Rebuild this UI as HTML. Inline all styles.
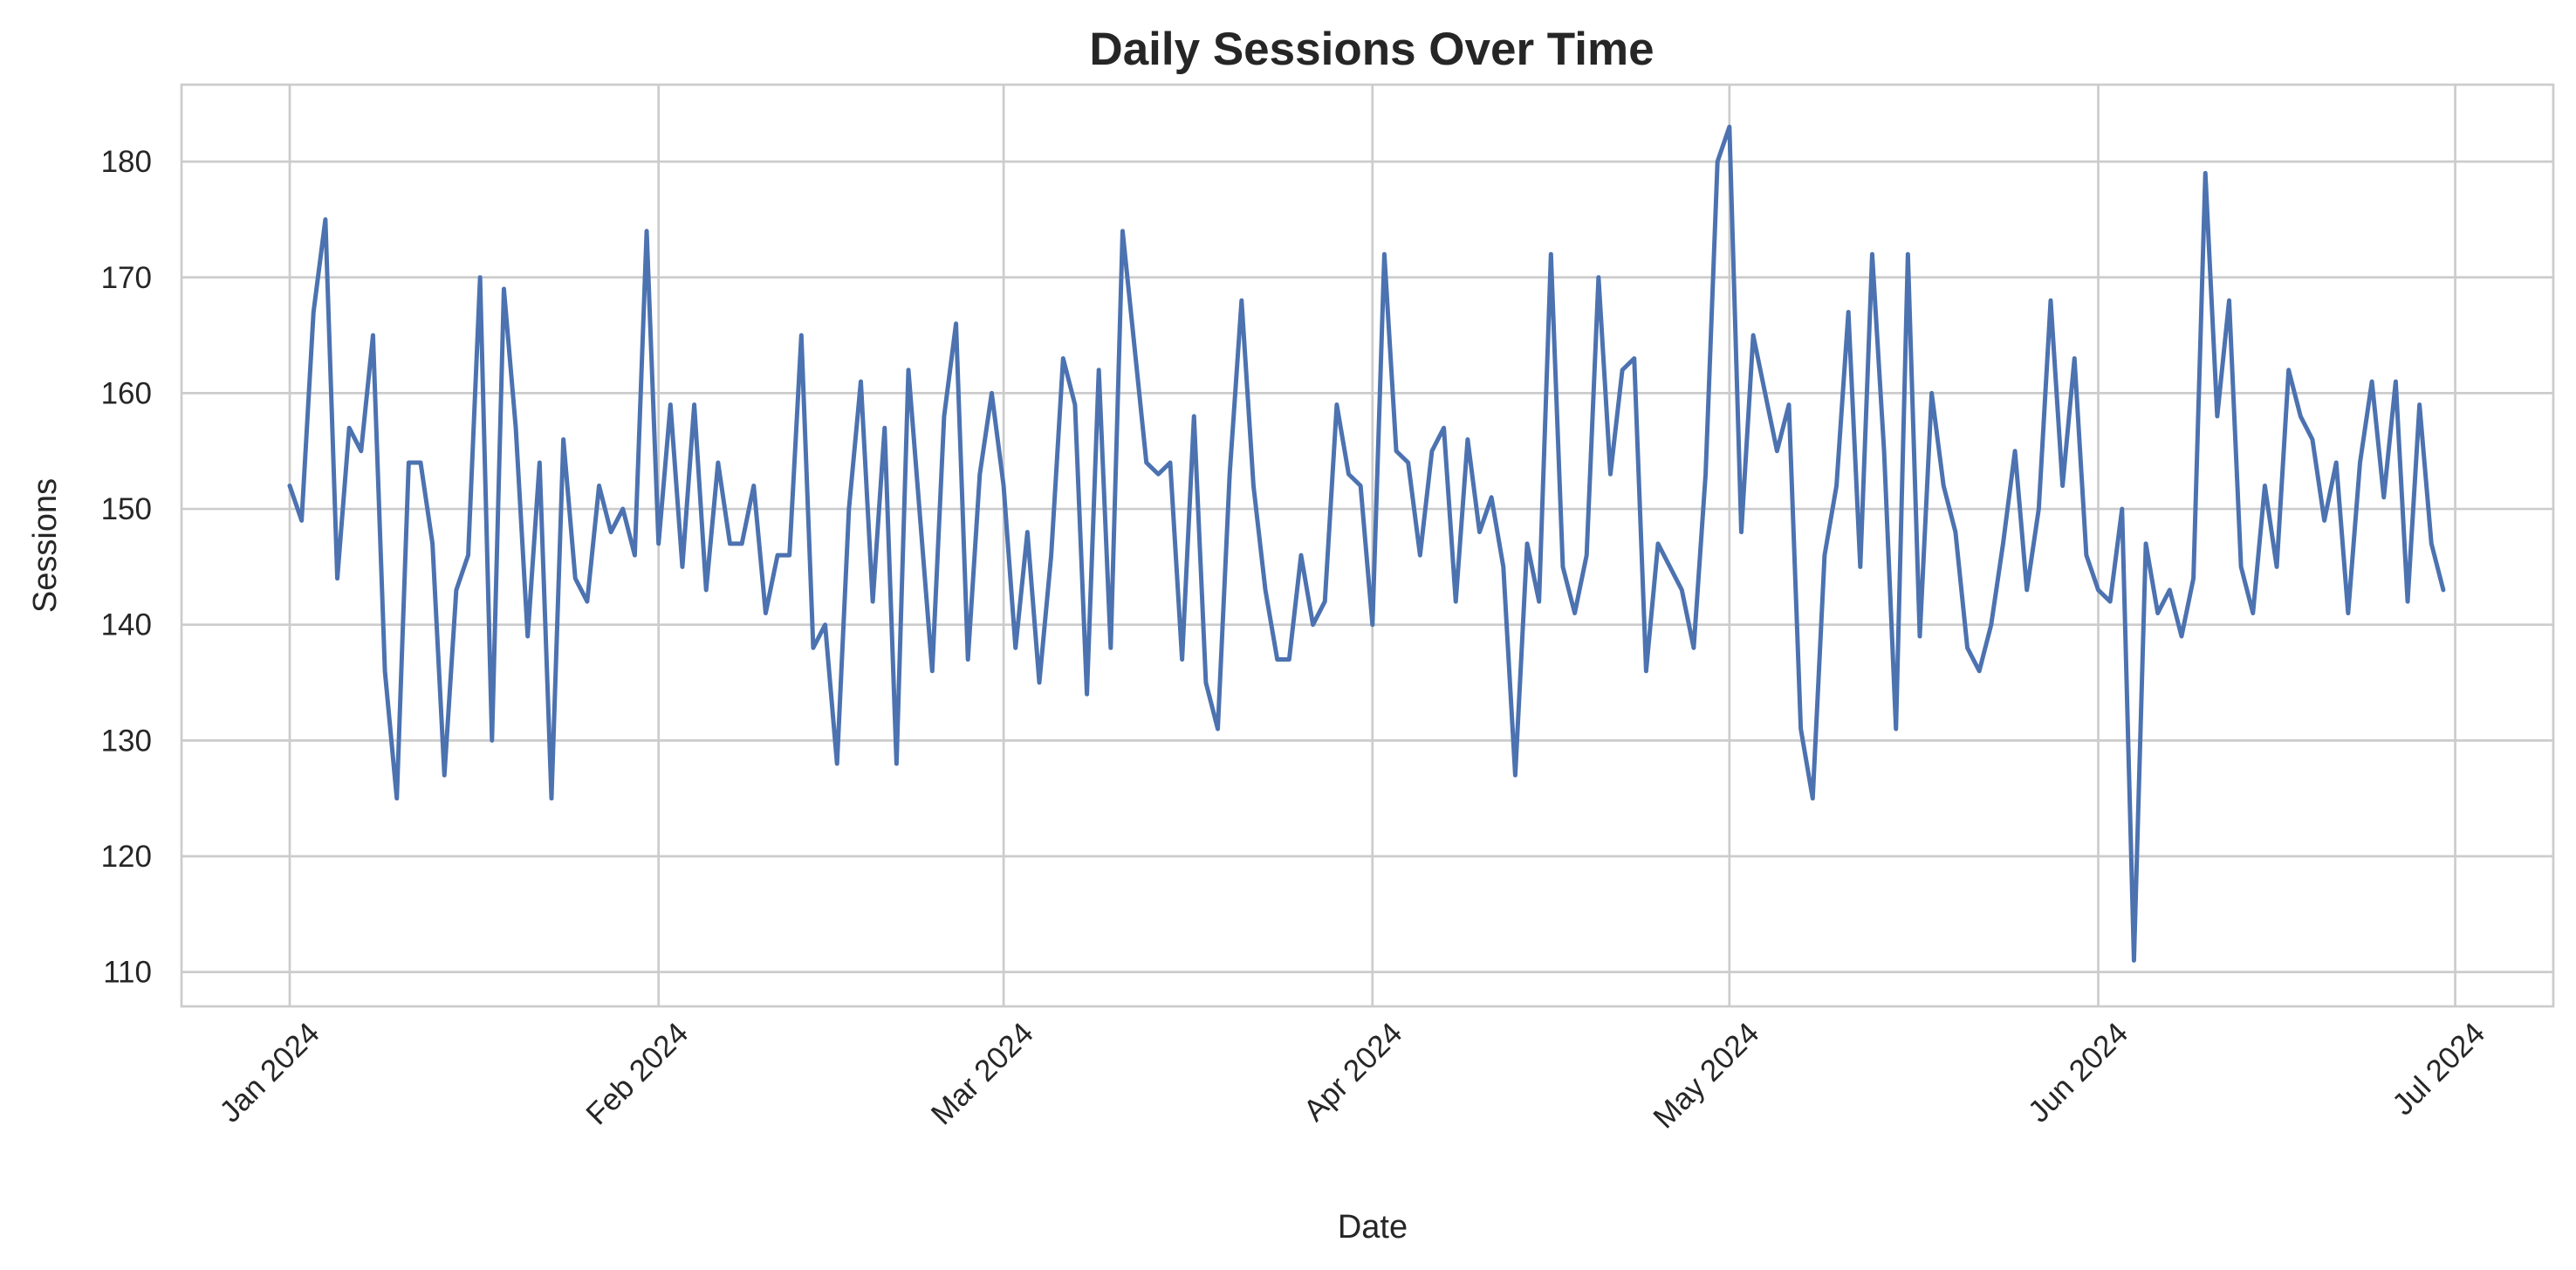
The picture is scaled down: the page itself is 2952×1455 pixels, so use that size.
<!DOCTYPE html>
<html>
<head>
<meta charset="utf-8">
<style>
  html, body { margin: 0; padding: 0; background: #ffffff; }
  svg { display: block; }
  text { font-family: "Liberation Sans", "DejaVu Sans", sans-serif; fill: #262626; }
</style>
</head>
<body>
<svg id="chart" width="2952" height="1455" viewBox="0 0 2952 1455" xmlns="http://www.w3.org/2000/svg">
  <rect x="0" y="0" width="2952" height="1455" fill="#ffffff"/>
  <g id="grid"></g>
  <g id="series"></g>
  <rect x="208" y="97" width="2718" height="1056" fill="none" stroke="#cccccc" stroke-width="2.7"/>
  <g id="yticks"></g>
  <g id="xticks"></g>
  <text x="1572" y="74" text-anchor="middle" font-size="53" font-weight="bold">Daily Sessions Over Time</text>
  <text x="1573" y="1418" text-anchor="middle" font-size="38">Date</text>
  <text x="64" y="625" text-anchor="middle" font-size="38" transform="rotate(-90 64 625)">Sessions</text>
</svg>
<script>
// Daily values, Jan 1 2024 .. Jun 30 2024
const sessions = [
152,149,167,175,144,157,155,165,136,125,154,154,147,127,143,146,170,130,169,157,139,154,125,156,144,142,152,148,150,146,
174,147,159,145,159,143,154,147,147,152,141,146,146,165,138,140,128,150,161,142,157,128,162,149,136,158,166,137,153,160,
152,138,148,135,146,163,159,134,162,138,174,164,154,153,154,137,158,135,131,153,168,152,143,137,137,146,140,142,159,153,
152,140,172,155,154,146,155,157,142,156,148,151,145,127,147,142,172,145,141,146,170,153,162,163,136,147,145,143,138,153,
180,183,148,165,160,155,159,131,125,146,152,167,145,172,155,131,172,139,160,152,148,138,136,140,147,155,143,150,168,152,
163,146,143,142,150,111,147,141,143,139,144,179,158,168,145,141,152,145,162,158,156,149,154,141,154,161,151,161,142,159,
147,143];
const yTicks = [110,120,130,140,150,160,170,180];
const xTickLabels = ["Jan 2024","Feb 2024","Mar 2024","Apr 2024","May 2024","Jun 2024","Jul 2024"];
const xTickDays = [0,31,60,91,121,152,182];

const NS = "http://www.w3.org/2000/svg";
function xScale(d) { return 332 + 13.635 * d; }
function yScale(v) { return 185.1 + (180 - v) * 13.265; }

const grid = document.getElementById('grid');
const yt = document.getElementById('yticks');
const xt = document.getElementById('xticks');
const series = document.getElementById('series');

yTicks.forEach(function (v) {
  const y = yScale(v);
  const ln = document.createElementNS(NS, 'line');
  ln.setAttribute('x1', 208); ln.setAttribute('x2', 2926);
  ln.setAttribute('y1', y); ln.setAttribute('y2', y);
  ln.setAttribute('stroke', '#cccccc'); ln.setAttribute('stroke-width', '2.7');
  
  
  grid.appendChild(ln);
  const t = document.createElementNS(NS, 'text');
  t.setAttribute('x', 174); t.setAttribute('y', y + 12);
  t.setAttribute('text-anchor', 'end'); t.setAttribute('font-size', '35');
  t.textContent = v;
  
  
  yt.appendChild(t);
});

xTickDays.forEach(function (d, i) {
  const x = xScale(d);
  const ln = document.createElementNS(NS, 'line');
  ln.setAttribute('x1', x); ln.setAttribute('x2', x);
  ln.setAttribute('y1', 97); ln.setAttribute('y2', 1153);
  ln.setAttribute('stroke', '#cccccc'); ln.setAttribute('stroke-width', '2.7');
  
  
  grid.appendChild(ln);
  const ax = x + 36, ay = 1186;
  const t = document.createElementNS(NS, 'text');
  t.setAttribute('x', ax); t.setAttribute('y', ay);
  t.setAttribute('text-anchor', 'end'); t.setAttribute('font-size', '35');
  t.setAttribute('transform', 'rotate(-45 ' + ax + ' ' + ay + ')');
  t.textContent = xTickLabels[i];
  
  
  xt.appendChild(t);
});

const pts = sessions.map(function (v, d) { return xScale(d).toFixed(2) + ',' + yScale(v).toFixed(2); });
const pl = document.createElementNS(NS, 'polyline');
pl.setAttribute('points', pts.join(' '));
pl.setAttribute('fill', 'none');
pl.setAttribute('stroke', '#4c72b0');
pl.setAttribute('stroke-width', '5');
pl.setAttribute('stroke-linejoin', 'round');
pl.setAttribute('stroke-linecap', 'round');


series.appendChild(pl);
</script>
</body>
</html>
